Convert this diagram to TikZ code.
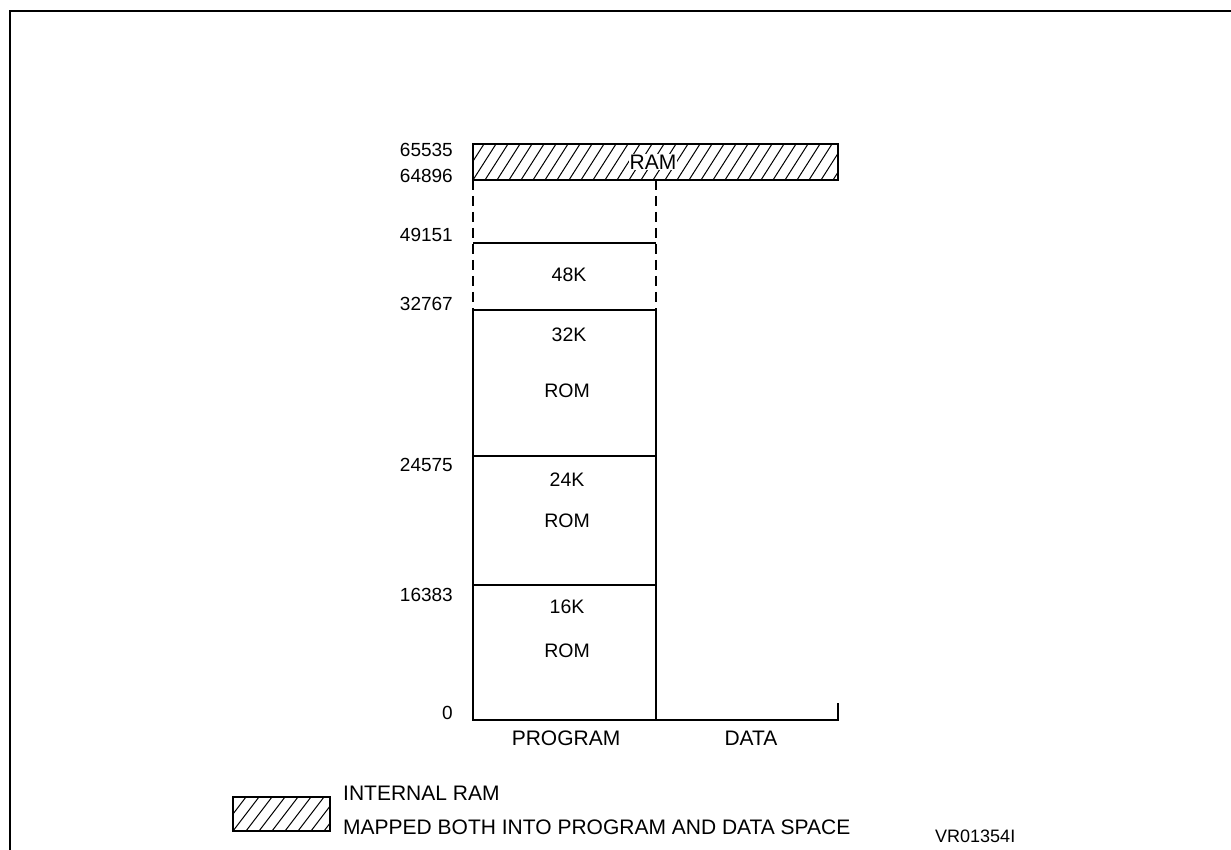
\documentclass[tikz,border=0pt]{standalone}
\usepackage{fontspec}
\setmainfont{Liberation Sans}
\begin{document}
\begin{tikzpicture}[x=1pt,y=-1pt,
  addr/.style={inner sep=0pt, anchor=east, font=\fontsize{19}{22}\selectfont},
  inlbl/.style={inner sep=0pt, font=\fontsize{19.5}{22}\selectfont},
  biglbl/.style={inner sep=0pt, font=\fontsize{21}{24}\selectfont},
  thinline/.style={line width=1.1pt},
  heavyline/.style={line width=1.9pt},
  dashline/.style={line width=1.1pt, dash pattern=on 10pt off 6pt},
  hatchline/.style={line width=1pt}]
\useasboundingbox (0,0) rectangle (1231,850);
\fill[white] (0,0) rectangle (1231,850);
% frame
\draw[line width=2.6pt] (10,860) -- (10,11) -- (1240,11);

% RAM bar
\coordinate (ramtl) at (473,144);
\coordinate (rambr) at (838,180);
\begin{scope}
  \clip (ramtl) rectangle (rambr);
  \foreach \x in {449,461,...,850} \draw[hatchline] (\x,180) -- ++(23,-36);
\end{scope}
\draw[heavyline] (ramtl) rectangle (rambr);
\node[biglbl, fill=white, inner sep=1pt] (ram) at (653,162) {RAM};

% program column, dashed part
\coordinate (pl1) at (473,180);
\coordinate (pl2) at (473,310);
\coordinate (pr1) at (656,180);
\coordinate (pr2) at (656,310);
\draw[dashline] (pl1) -- (pl2);
\draw[dashline] (pr1) -- (pr2);
\draw[heavyline] (473,243) -- (656,243);
\draw[thinline] (pl2) -- (pr2);

% solid part
\coordinate (pl0) at (473,720);
\coordinate (pr0) at (656,720);
\coordinate (dr0) at (838,720);
\coordinate (drt) at (838,703);
\draw[thinline] (pl2) -- (pl0) -- (dr0) -- (drt);
\draw[thinline] (pr2) -- (pr0);
\draw[heavyline] (473,456) -- (656,456);
\draw[thinline] (473,585) -- (656,585);

% address labels
\node[addr] (a65535) at (453,150) {65535};
\node[addr] (a64896) at (453,176) {64896};
\node[addr] (a49151) at (453,235) {49151};
\node[addr] (a32767) at (453,304) {32767};
\node[addr] (a24575) at (453,465) {24575};
\node[addr] (a16383) at (453,595) {16383};
\node[addr] (a0) at (453,713) {0};

% inner labels
\node[inlbl] (k48) at (569,275) {48K};
\node[inlbl] (k32) at (569,335) {32K};
\node[inlbl] (rom32) at (567,391) {ROM};
\node[inlbl] (k24) at (567,480) {24K};
\node[inlbl] (rom24) at (567,521) {ROM};
\node[inlbl] (k16) at (567,607) {16K};
\node[inlbl] (rom16) at (567,651) {ROM};

% column labels
\node[biglbl] (prog) at (566,738) {PROGRAM};
\node[biglbl] (data) at (751,738) {DATA};

% legend
\coordinate (legtl) at (233,797);
\coordinate (legbr) at (330,831);
\begin{scope}
  \clip (legtl) rectangle (legbr);
  \foreach \x in {207,220,...,340} \draw[hatchline] (\x,831) -- ++(26,-34);
\end{scope}
\draw[heavyline] (legtl) rectangle (legbr);
\node[biglbl, anchor=west] (leg1) at (343,793.5) {INTERNAL RAM};
\node[biglbl, anchor=west] (leg2) at (343,827) {MAPPED BOTH INTO PROGRAM AND DATA SPACE};
\node[inner sep=0pt, anchor=west, font=\fontsize{18}{20}\selectfont] (vr) at (935,836) {VR01354I};
\end{tikzpicture}
\end{document}
